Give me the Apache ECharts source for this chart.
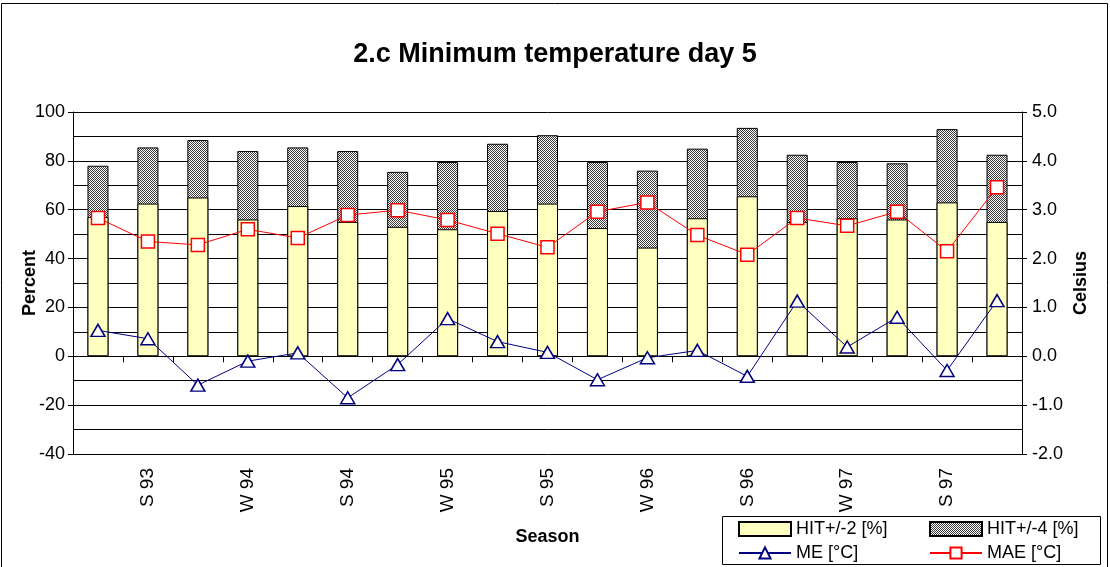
<!DOCTYPE html>
<html>
<head>
<meta charset="utf-8">
<script src="https://cdn.jsdelivr.net/npm/echarts@6/dist/echarts.min.js"></script>
<style>
  html, body { margin: 0; padding: 0; background: #fff; }
  #chart { width: 1110px; height: 567px; }
</style>
</head>
<body>
<div id="chart"></div>
<script>
// seasons, only every second one carries a label
var seasons = ['', 'S 93', '', 'W 94', '', 'S 94', '', 'W 95', '', 'S 95', '', 'W 96', '', 'S 96', '', 'W 97', '', 'S 97', ''];
// hits within +/-2 and +/-4 degrees [%]
var hit2 = [57, 62.5, 65, 56, 61.5, 55, 53, 52, 59.5, 62.5, 52.5, 44.5, 56.5, 65.5, 55, 56.5, 56, 63, 55];
var hit4 = [78, 85.5, 88.5, 84, 85.5, 84, 75.5, 79.5, 87, 90.5, 79.5, 76, 85, 93.5, 82.5, 79.5, 79, 93, 82.5];
// mean error and mean absolute error [°C]
var me  = [0.53, 0.36, -0.59, -0.10, 0.07, -0.85, -0.17, 0.77, 0.30, 0.08, -0.48, -0.03, 0.12, -0.41, 1.13, 0.19, 0.80, -0.29, 1.14];
var mae = [2.83, 2.35, 2.28, 2.60, 2.42, 2.89, 2.99, 2.79, 2.51, 2.23, 2.96, 3.15, 2.48, 2.08, 2.83, 2.67, 2.96, 2.15, 3.46];

var font = 'Arial, "Liberation Sans", sans-serif';

// hatched fill for the +/-4 bars
var hatch = document.createElement('canvas');
hatch.width = 4; hatch.height = 4;
var ctx = hatch.getContext('2d');
ctx.fillStyle = '#3a3a3a';
ctx.fillRect(0, 0, 4, 4);
ctx.fillStyle = '#ffffff';
for (var i = 0; i < 4; i++) {
    ctx.fillRect(i, 3 - i, 1, 1);
    ctx.fillRect((i + 2) % 4, 3 - i, 1, 1);
}
var hatchFill = { image: hatch, repeat: 'repeat' };

var chart = echarts.init(document.getElementById('chart'));
var option = {
    animation: false,
    textStyle: { fontFamily: font, color: '#000' },
    title: {
        text: '2.c Minimum temperature day 5',
        left: 'center',
        top: 36,
        textStyle: { fontFamily: font, fontSize: 27, fontWeight: 'bold', color: '#000' }
    },
    grid: { left: 73, right: 88, top: 112, bottom: 113, outerBoundsMode: 'none' },
    legend: [{
        data: [{ name: 'HIT+/-2 [%]', icon: 'rect' }, 'ME [°C]'],
        orient: 'vertical',
        left: 738, top: 520,
        itemWidth: 52, itemHeight: 14, itemGap: 6,
        padding: 0, z: 60,
        textStyle: { fontFamily: font, fontSize: 18, color: '#000' }
    }, {
        data: [{ name: 'HIT+/-4 [%]', icon: 'rect' }, 'MAE [°C]'],
        orient: 'vertical',
        left: 929, top: 520,
        itemWidth: 52, itemHeight: 14, itemGap: 6,
        padding: 0, z: 60,
        textStyle: { fontFamily: font, fontSize: 18, color: '#000' }
    }],
    xAxis: [{
        type: 'category',
        data: seasons,
        position: 'bottom',
        axisLine: { onZero: true, onZeroAxisIndex: 0, lineStyle: { color: '#000', width: 1 } },
        axisTick: { show: true, interval: 0, length: 6, lineStyle: { color: '#000' } },
        axisLabel: { show: false },
        splitLine: { show: false }
    }, {
        type: 'category',
        data: seasons,
        position: 'bottom',
        axisLine: { show: false, onZero: false },
        axisTick: { show: false },
        axisLabel: { interval: 0, rotate: 90, margin: 14, fontSize: 19, color: '#000', fontFamily: font },
        name: 'Season',
        nameLocation: 'middle',
        nameGap: 74,
        nameMoveOverlap: false,
        nameTextStyle: { fontSize: 18, fontWeight: 'bold', color: '#000', fontFamily: font }
    }],
    yAxis: [{
        type: 'value',
        min: -40, max: 100, interval: 20,
        position: 'left',
        name: 'Percent',
        nameLocation: 'middle',
        nameRotate: 90,
        nameGap: 34,
        nameMoveOverlap: false,
        nameTextStyle: { fontSize: 18, fontWeight: 'bold', color: '#000', fontFamily: font },
        axisLine: { show: true, lineStyle: { color: '#000' } },
        axisTick: { show: true, length: 5, lineStyle: { color: '#000' } },
        axisLabel: { margin: 8, fontSize: 18, color: '#000', fontFamily: font },
        splitLine: { show: true, lineStyle: { color: '#000', width: 1 } },
        minorTick: { show: false, splitNumber: 2 },
        minorSplitLine: { show: true, lineStyle: { color: '#000', width: 1 } }
    }, {
        type: 'value',
        min: -2, max: 5, interval: 1,
        position: 'right',
        name: 'Celsius',
        nameLocation: 'middle',
        nameRotate: 90,
        nameGap: 50,
        nameMoveOverlap: false,
        nameTextStyle: { fontSize: 18, fontWeight: 'bold', color: '#000', fontFamily: font },
        axisLine: { show: true, lineStyle: { color: '#000' } },
        axisTick: { show: true, length: 5, lineStyle: { color: '#000' } },
        axisLabel: {
            margin: 10, fontSize: 18, color: '#000', fontFamily: font,
            formatter: function (v) { return v.toFixed(1); }
        },
        splitLine: { show: false }
    }],
    series: [{
        name: 'HIT+/-4 [%]',
        type: 'bar',
        xAxisIndex: 0, yAxisIndex: 0,
        data: hit4,
        barWidth: 21,
        barGap: '-100%',
        itemStyle: { color: hatchFill, borderColor: '#000', borderWidth: 1 }
    }, {
        name: 'HIT+/-2 [%]',
        type: 'bar',
        xAxisIndex: 0, yAxisIndex: 0,
        data: hit2,
        barWidth: 21,
        barGap: '-100%',
        itemStyle: { color: '#ffffc0', borderColor: '#000', borderWidth: 1 }
    }, {
        name: 'ME [°C]',
        type: 'line',
        xAxisIndex: 0, yAxisIndex: 1,
        data: me,
        symbol: 'triangle',
        symbolSize: [14, 12],
        lineStyle: { color: '#000080', width: 1 },
        itemStyle: { color: '#fff', borderColor: '#000080', borderWidth: 1.5 }
    }, {
        name: 'MAE [°C]',
        type: 'line',
        xAxisIndex: 0, yAxisIndex: 1,
        data: mae,
        symbol: 'rect',
        symbolSize: 13,
        lineStyle: { color: '#ff0000', width: 1 },
        itemStyle: { color: '#fff', borderColor: '#ff0000', borderWidth: 1.5 }
    }],
    graphic: [{
        type: 'rect',
        shape: { x: 1.5, y: 3.5, width: 1106, height: 580 },
        style: { fill: null, stroke: '#000', lineWidth: 1 },
        silent: true
    }, {
        type: 'rect',
        shape: { x: 722.5, y: 516.5, width: 378, height: 48 },
        style: { fill: '#fff', stroke: '#000', lineWidth: 1 },
        z: 50,
        silent: true
    }]
};
chart.setOption(option);
</script>
</body>
</html>
